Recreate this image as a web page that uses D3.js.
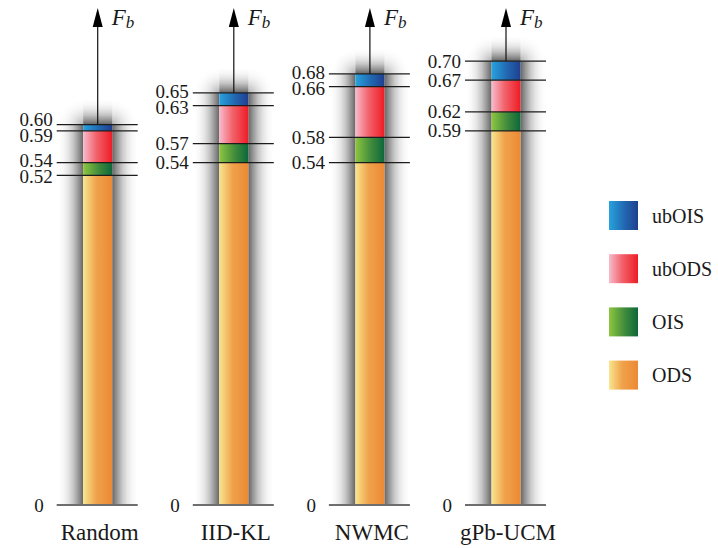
<!DOCTYPE html>
<html>
<head>
<meta charset="utf-8">
<script src="https://cdn.jsdelivr.net/npm/d3@7/dist/d3.min.js"></script>
<style>
  html, body { margin: 0; padding: 0; background: #fff; }
  svg { display: block; }
  text { font-family: "Liberation Serif", "Times New Roman", serif; fill: #1a1a1a; }
</style>
</head>
<body>
<svg id="chart" width="718" height="548"></svg>
<script>
// Boundary F-measure per method (cumulative levels)
const categories = ["Random", "IID-KL", "NWMC", "gPb-UCM"];
const ods   = [0.52, 0.54, 0.54, 0.59];
const ois   = [0.54, 0.57, 0.58, 0.62];
const ubods = [0.59, 0.63, 0.66, 0.67];
const ubois = [0.60, 0.65, 0.68, 0.70];
const seriesNames = ["ODS", "OIS", "ubODS", "ubOIS"];
const legendOrder = ["ubOIS", "ubODS", "OIS", "ODS"];
const valueFormat = d3.format(".2f");

const gradients = {
  ODS:   [["0%", "#f8e68e"], ["45%", "#f0a24c"], ["100%", "#ec8934"]],
  OIS:   [["0%", "#8dc63f"], ["55%", "#3f8a3c"], ["100%", "#0b683a"]],
  ubODS: [["0%", "#f7bbcc"], ["45%", "#f2636c"], ["100%", "#ee1c25"]],
  ubOIS: [["0%", "#27a3dd"], ["55%", "#2266b0"], ["100%", "#1f3f8f"]]
};

const svg = d3.select("#chart");
const defs = svg.append("defs");

Object.entries(gradients).forEach(([name, stops]) => {
  const g = defs.append("linearGradient")
    .attr("id", "grad-" + name)
    .attr("x1", "0%").attr("x2", "100%").attr("y1", "0%").attr("y2", "0%");
  stops.forEach(([o, c]) => g.append("stop").attr("offset", o).attr("stop-color", c));
});

// soft-shadow fall-off (outer edge -> bar edge)
const shadeStops = [[0, 0], [0.2, 0.03], [0.4, 0.1], [0.6, 0.22], [0.8, 0.4], [1, 0.6]];
function shadeGradient(id, x1, y1, x2, y2) {
  const g = defs.append("linearGradient").attr("id", id)
    .attr("x1", x1).attr("y1", y1).attr("x2", x2).attr("y2", y2);
  shadeStops.forEach(([o, a]) => g.append("stop")
    .attr("offset", o).attr("stop-color", "#000").attr("stop-opacity", a));
}
shadeGradient("shade-l", 0, 0, 1, 0);
shadeGradient("shade-r", 1, 0, 0, 0);
shadeGradient("shade-t", 0, 0, 0, 1);
function cornerGradient(id, cx) {
  const g = defs.append("radialGradient").attr("id", id)
    .attr("cx", cx).attr("cy", 1).attr("fx", cx).attr("fy", 1).attr("r", 1);
  shadeStops.slice().reverse().forEach(([o, a]) => g.append("stop")
    .attr("offset", 1 - o).attr("stop-color", "#000").attr("stop-opacity", a * 0.5));
}
cornerGradient("shade-tl", 1);
cornerGradient("shade-tr", 0);

const x = d3.scalePoint().domain(categories).range([97.7, 506]);
const y = d3.scaleLinear().domain([0, 0.7]).range([505, 61.2]);

const barW = 29;
const shadeW = 25;
const base = y(0);

const rows = categories.map((c, i) => ({
  cat: c,
  levels: { ODS: ods[i], OIS: ois[i], ubODS: ubods[i], ubOIS: ubois[i] }
}));

const groups = svg.selectAll("g.method").data(rows).join("g")
  .attr("class", "method")
  .attr("transform", d => `translate(${x(d.cat)},0)`);

// shadow around each column
const shade = groups.append("g").attr("class", "shade");
shade.append("rect")
  .attr("x", -barW / 2 - shadeW).attr("width", shadeW)
  .attr("y", d => y(d.levels.ubOIS)).attr("height", d => base - y(d.levels.ubOIS))
  .attr("fill", "url(#shade-l)");
shade.append("rect")
  .attr("x", barW / 2).attr("width", shadeW)
  .attr("y", d => y(d.levels.ubOIS)).attr("height", d => base - y(d.levels.ubOIS))
  .attr("fill", "url(#shade-r)");
shade.append("rect")
  .attr("x", -barW / 2).attr("width", barW)
  .attr("y", d => y(d.levels.ubOIS) - shadeW).attr("height", shadeW)
  .attr("fill", "url(#shade-t)");
shade.append("rect")
  .attr("x", -barW / 2 - shadeW).attr("width", shadeW)
  .attr("y", d => y(d.levels.ubOIS) - shadeW).attr("height", shadeW)
  .attr("fill", "url(#shade-tl)");
shade.append("rect")
  .attr("x", barW / 2).attr("width", shadeW)
  .attr("y", d => y(d.levels.ubOIS) - shadeW).attr("height", shadeW)
  .attr("fill", "url(#shade-tr)");

// stacked segments
groups.each(function(d) {
  const g = d3.select(this);
  let prev = 0;
  seriesNames.forEach(s => {
    const v = d.levels[s];
    g.append("rect")
      .attr("x", -barW / 2).attr("width", barW)
      .attr("y", y(v)).attr("height", y(prev) - y(v))
      .attr("fill", `url(#grad-${s})`);
    prev = v;
  });
});

// arrow up to F_b
groups.append("line")
  .attr("x1", 0).attr("x2", 0)
  .attr("y1", d => y(d.levels.ubOIS)).attr("y2", 26)
  .attr("stroke", "#111").attr("stroke-width", 1.2);
groups.append("path")
  .attr("d", "M0,8 L5,27 L-5,27 Z")
  .attr("fill", "#000");
const fb = groups.append("text")
  .attr("x", 14).attr("y", 25)
  .style("font-style", "italic").style("font-size", "23px");
fb.append("tspan").text("F");
fb.append("tspan").attr("dy", 3).style("font-size", "17px").text("b");

// level lines and labels
groups.each(function(d) {
  const g = d3.select(this);
  const vals = seriesNames.map(s => d.levels[s]).sort((a, b) => b - a);
  vals.forEach(v => {
    g.append("line")
      .attr("x1", -41).attr("x2", 40)
      .attr("y1", y(v)).attr("y2", y(v))
      .attr("stroke", "#1c1c1c").attr("stroke-width", 1.3);
  });
  // spread labels of close levels apart
  const pos = vals.map(v => y(v));
  const sep = 16;
  for (let k = 0; k < 4; k++) {
    for (let i = 0; i < pos.length - 1; i++) {
      const gap = pos[i + 1] - pos[i];
      if (gap < sep) {
        const sh = (sep - gap) / 2;
        pos[i] -= sh; pos[i + 1] += sh;
      }
    }
  }
  vals.forEach((v, i) => {
    g.append("text")
      .attr("x", -45).attr("y", pos[i])
      .attr("text-anchor", "end")
      .attr("dominant-baseline", "central")
      .style("font-size", "19px")
      .text(valueFormat(v));
  });
});

// baseline and zero label
groups.append("line")
  .attr("x1", -41).attr("x2", 40)
  .attr("y1", base).attr("y2", base)
  .attr("stroke", "#6e6e6e").attr("stroke-width", 2);
groups.append("text")
  .attr("x", -54).attr("y", base)
  .attr("text-anchor", "end").attr("dominant-baseline", "central")
  .style("font-size", "19px")
  .text("0");

// method names
groups.append("text")
  .attr("x", 2).attr("y", 540)
  .attr("text-anchor", "middle")
  .style("font-size", "23px")
  .text(d => d.cat);

// legend
const legend = svg.append("g").attr("transform", "translate(609,215.5)");
const li = legend.selectAll("g").data(legendOrder).join("g")
  .attr("transform", (d, i) => `translate(0,${i * 53.2})`);
li.append("rect")
  .attr("x", 0).attr("y", -14.5).attr("width", 29).attr("height", 29)
  .attr("fill", d => `url(#grad-${d})`);
li.append("text")
  .attr("x", 43).attr("y", 0)
  .attr("dominant-baseline", "central")
  .style("font-size", "20px")
  .text(d => d);
</script>
</body>
</html>
